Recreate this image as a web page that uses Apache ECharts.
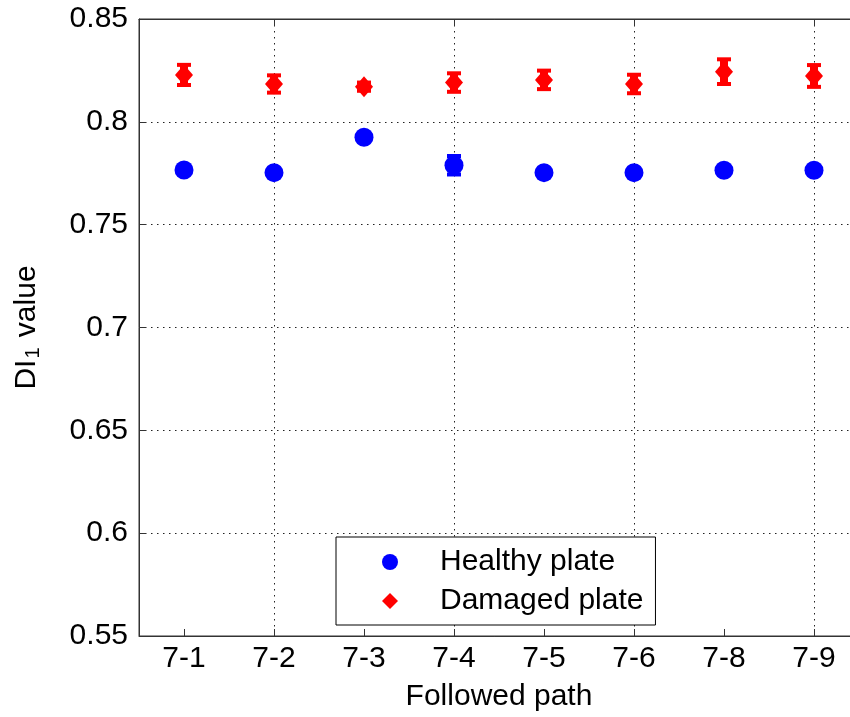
<!DOCTYPE html>
<html>
<head>
<meta charset="utf-8">
<script src="https://cdn.jsdelivr.net/npm/echarts@6/dist/echarts.min.js"></script>
<style>html,body{margin:0;padding:0;background:#fff;}#c{width:850px;height:717px;}</style>
</head>
<body>
<div id="c"></div>
<script>
const categories = ['7-1','7-2','7-3','7-4','7-5','7-6','7-8','7-9'];
const healthy    = [0.7766, 0.7753, 0.7925, 0.7789, 0.7753, 0.7753, 0.7765, 0.7765];
const healthyErr = [0, 0, 0, 0.0045, 0, 0, 0, 0];
const damaged    = [0.8228, 0.8184, 0.8171, 0.8191, 0.8204, 0.8184, 0.8244, 0.8223];
const damagedErr = [0.0049, 0.0042, 0.002, 0.0045, 0.0045, 0.0045, 0.006, 0.0053];
const yTicks = [0.55, 0.6, 0.65, 0.7, 0.75, 0.8, 0.85];

const FONT = '"Liberation Sans", Arial, Helvetica, sans-serif';
const pts = (vals) => vals.map((v, i) => [categories[i], v]);
const errPts = (vals, errs) => vals.map((v, i) => [i, v, errs[i]]);

function errRender(params, api) {
  const x = api.value(0), y = api.value(1), e = api.value(2);
  if (!e) return null;
  const t = api.coord([x, y + e]);
  const b = api.coord([x, y - e]);
  const color = api.visual('color');
  return {
    type: 'group',
    children: [
      {type: 'line', shape: {x1: t[0], y1: t[1], x2: b[0], y2: b[1]}, style: {stroke: color, lineWidth: 8}},
      {type: 'line', shape: {x1: t[0] - 7, y1: t[1], x2: t[0] + 7, y2: t[1]}, style: {stroke: color, lineWidth: 4}},
      {type: 'line', shape: {x1: b[0] - 7, y1: b[1], x2: b[0] + 7, y2: b[1]}, style: {stroke: color, lineWidth: 4}}
    ]
  };
}

const chart = echarts.init(document.getElementById('c'), null, {renderer: 'canvas'});
const gridLine = {show: true, lineStyle: {color: '#222', width: 1, type: [1.5, 4.5]}};
chart.setOption({
  animation: false,
  backgroundColor: '#fff',
  textStyle: {fontFamily: FONT},
  grid: {left: 139, width: 720, top: 19, height: 617, outerBoundsMode: 'none', containLabel: false,
         show: true, borderColor: '#333', borderWidth: 1, backgroundColor: 'transparent'},
  legend: {
    data: ['Healthy plate', 'Damaged plate'],
    orient: 'vertical',
    left: 336, top: 537,
    padding: [10, 12, 9, 46],
    itemGap: 9,
    itemWidth: 16, itemHeight: 16,
    backgroundColor: '#fff',
    borderColor: '#000', borderWidth: 1, borderRadius: 0,
    textStyle: {fontSize: 30, color: '#000', fontFamily: FONT, padding: [0, 0, 0, 37]}
  },
  xAxis: [{
    type: 'category', data: categories, boundaryGap: true,
    name: 'Followed path', nameLocation: 'middle', nameGap: 46,
    nameTextStyle: {fontSize: 30, color: '#000', fontFamily: FONT},
    axisLine: {show: true, lineStyle: {color: '#333'}},
    axisTick: {show: true, inside: true, length: 7, alignWithLabel: true, interval: 0, lineStyle: {color: '#333'}},
    axisLabel: {fontSize: 30, color: '#000', margin: 8, fontFamily: FONT, interval: 0},
    splitLine: {show: false}
  }, {
    type: 'value', min: 0.5, max: 8.5, position: 'top',
    axisLine: {show: true, lineStyle: {color: '#333'}},
    axisTick: {show: true, inside: true, length: 7, lineStyle: {color: '#333'}},
    axisLabel: {show: false},
    splitLine: gridLine
  }],
  yAxis: {
    type: 'value', min: yTicks[0], max: yTicks[yTicks.length - 1], interval: 0.05,
    name: 'DI{sub|1} value', nameLocation: 'middle', nameGap: 96,
    nameTextStyle: {fontSize: 30, color: '#000', fontFamily: FONT,
      rich: {sub: {fontSize: 20, color: '#000', fontFamily: FONT, verticalAlign: 'bottom', padding: [12, 2, 0, 1]}}},
    axisLine: {show: true, lineStyle: {color: '#333'}},
    axisTick: {show: true, inside: true, length: 7, lineStyle: {color: '#333'}},
    axisLabel: {fontSize: 30, color: '#000', margin: 11, fontFamily: FONT},
    splitLine: gridLine
  },
  series: [
    {name: 'Healthy err', type: 'custom', renderItem: errRender, data: errPts(healthy, healthyErr),
     xAxisIndex: 0, itemStyle: {color: '#0000ff'}, encode: {x: 0, y: 1}, z: 2},
    {name: 'Damaged err', type: 'custom', renderItem: errRender, data: errPts(damaged, damagedErr),
     xAxisIndex: 0, itemStyle: {color: '#ff0000'}, encode: {x: 0, y: 1}, z: 2},
    {name: 'Healthy plate', type: 'scatter', data: pts(healthy), symbol: 'circle', symbolSize: 19,
     xAxisIndex: 0, itemStyle: {color: '#0000ff', opacity: 1}, z: 3},
    {name: 'Damaged plate', type: 'scatter', data: pts(damaged), symbol: 'diamond', symbolSize: [18, 21],
     xAxisIndex: 0, itemStyle: {color: '#ff0000', opacity: 1}, z: 3}
  ]
});
</script>
</body>
</html>
